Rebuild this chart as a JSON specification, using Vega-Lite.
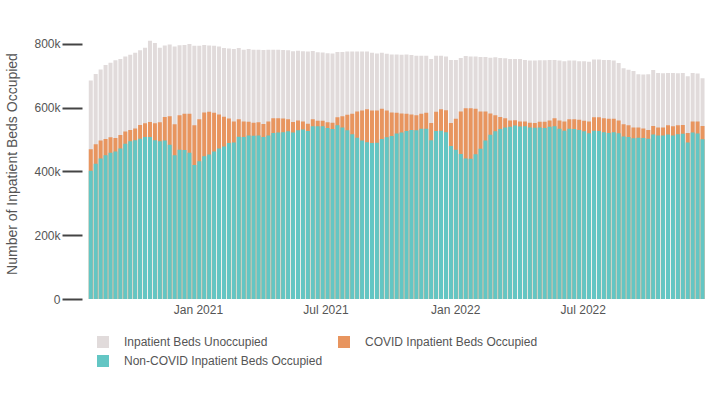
{
  "$schema": "https://vega.github.io/schema/vega-lite/v6.json",
  "width": 626,
  "height": 271,
  "autosize": {"type": "none"},
  "padding": {"left": 84, "top": 28, "right": 10, "bottom": 101},
  "background": "white",
  "config": {"view": {"stroke": null}, "font": "Liberation Sans"},
  "data": {"values": [
    {"week": "2020-08-02", "nonCovid": 402000, "occupied": 470000, "total": 685000},
    {"week": "2020-08-09", "nonCovid": 424000, "occupied": 485000, "total": 706000},
    {"week": "2020-08-16", "nonCovid": 441000, "occupied": 497000, "total": 720000},
    {"week": "2020-08-23", "nonCovid": 451000, "occupied": 502000, "total": 734000},
    {"week": "2020-08-30", "nonCovid": 459000, "occupied": 507000, "total": 741000},
    {"week": "2020-09-06", "nonCovid": 463000, "occupied": 505000, "total": 749000},
    {"week": "2020-09-13", "nonCovid": 472000, "occupied": 514000, "total": 753000},
    {"week": "2020-09-20", "nonCovid": 487000, "occupied": 525000, "total": 761000},
    {"week": "2020-09-27", "nonCovid": 495000, "occupied": 530000, "total": 766000},
    {"week": "2020-10-04", "nonCovid": 498000, "occupied": 535000, "total": 772000},
    {"week": "2020-10-11", "nonCovid": 503000, "occupied": 546000, "total": 780000},
    {"week": "2020-10-18", "nonCovid": 508000, "occupied": 551000, "total": 788000},
    {"week": "2020-10-25", "nonCovid": 508000, "occupied": 555000, "total": 810000},
    {"week": "2020-11-01", "nonCovid": 498000, "occupied": 551000, "total": 803000},
    {"week": "2020-11-08", "nonCovid": 495000, "occupied": 554000, "total": 788000},
    {"week": "2020-11-15", "nonCovid": 497000, "occupied": 571000, "total": 795000},
    {"week": "2020-11-22", "nonCovid": 484000, "occupied": 573000, "total": 798000},
    {"week": "2020-11-29", "nonCovid": 451000, "occupied": 548000, "total": 792000},
    {"week": "2020-12-06", "nonCovid": 468000, "occupied": 576000, "total": 796000},
    {"week": "2020-12-13", "nonCovid": 467000, "occupied": 581000, "total": 797000},
    {"week": "2020-12-20", "nonCovid": 459000, "occupied": 581000, "total": 800000},
    {"week": "2020-12-27", "nonCovid": 420000, "occupied": 545000, "total": 794000},
    {"week": "2021-01-03", "nonCovid": 432000, "occupied": 564000, "total": 794000},
    {"week": "2021-01-10", "nonCovid": 448000, "occupied": 585000, "total": 797000},
    {"week": "2021-01-17", "nonCovid": 453000, "occupied": 587000, "total": 795000},
    {"week": "2021-01-24", "nonCovid": 463000, "occupied": 584000, "total": 794000},
    {"week": "2021-01-31", "nonCovid": 472000, "occupied": 579000, "total": 792000},
    {"week": "2021-02-07", "nonCovid": 478000, "occupied": 572000, "total": 787000},
    {"week": "2021-02-14", "nonCovid": 489000, "occupied": 566000, "total": 786000},
    {"week": "2021-02-21", "nonCovid": 491000, "occupied": 557000, "total": 784000},
    {"week": "2021-02-28", "nonCovid": 509000, "occupied": 564000, "total": 787000},
    {"week": "2021-03-07", "nonCovid": 508000, "occupied": 557000, "total": 782000},
    {"week": "2021-03-14", "nonCovid": 513000, "occupied": 556000, "total": 784000},
    {"week": "2021-03-21", "nonCovid": 512000, "occupied": 553000, "total": 782000},
    {"week": "2021-03-28", "nonCovid": 513000, "occupied": 554000, "total": 782000},
    {"week": "2021-04-04", "nonCovid": 508000, "occupied": 549000, "total": 781000},
    {"week": "2021-04-11", "nonCovid": 513000, "occupied": 557000, "total": 782000},
    {"week": "2021-04-18", "nonCovid": 521000, "occupied": 567000, "total": 782000},
    {"week": "2021-04-25", "nonCovid": 522000, "occupied": 567000, "total": 782000},
    {"week": "2021-05-02", "nonCovid": 523000, "occupied": 566000, "total": 781000},
    {"week": "2021-05-09", "nonCovid": 526000, "occupied": 564000, "total": 780000},
    {"week": "2021-05-16", "nonCovid": 522000, "occupied": 555000, "total": 777000},
    {"week": "2021-05-23", "nonCovid": 529000, "occupied": 560000, "total": 779000},
    {"week": "2021-05-30", "nonCovid": 532000, "occupied": 557000, "total": 777000},
    {"week": "2021-06-06", "nonCovid": 527000, "occupied": 550000, "total": 776000},
    {"week": "2021-06-13", "nonCovid": 542000, "occupied": 564000, "total": 778000},
    {"week": "2021-06-20", "nonCovid": 542000, "occupied": 559000, "total": 774000},
    {"week": "2021-06-27", "nonCovid": 542000, "occupied": 559000, "total": 773000},
    {"week": "2021-07-04", "nonCovid": 536000, "occupied": 554000, "total": 771000},
    {"week": "2021-07-11", "nonCovid": 533000, "occupied": 553000, "total": 770000},
    {"week": "2021-07-18", "nonCovid": 545000, "occupied": 570000, "total": 775000},
    {"week": "2021-07-25", "nonCovid": 538000, "occupied": 573000, "total": 775000},
    {"week": "2021-08-01", "nonCovid": 529000, "occupied": 578000, "total": 776000},
    {"week": "2021-08-08", "nonCovid": 517000, "occupied": 581000, "total": 776000},
    {"week": "2021-08-15", "nonCovid": 506000, "occupied": 588000, "total": 776000},
    {"week": "2021-08-22", "nonCovid": 497000, "occupied": 591000, "total": 776000},
    {"week": "2021-08-29", "nonCovid": 492000, "occupied": 595000, "total": 776000},
    {"week": "2021-09-05", "nonCovid": 489000, "occupied": 591000, "total": 772000},
    {"week": "2021-09-12", "nonCovid": 490000, "occupied": 591000, "total": 770000},
    {"week": "2021-09-19", "nonCovid": 502000, "occupied": 597000, "total": 772000},
    {"week": "2021-09-26", "nonCovid": 507000, "occupied": 591000, "total": 769000},
    {"week": "2021-10-03", "nonCovid": 511000, "occupied": 585000, "total": 767000},
    {"week": "2021-10-10", "nonCovid": 519000, "occupied": 584000, "total": 767000},
    {"week": "2021-10-17", "nonCovid": 522000, "occupied": 582000, "total": 766000},
    {"week": "2021-10-24", "nonCovid": 527000, "occupied": 581000, "total": 767000},
    {"week": "2021-10-31", "nonCovid": 530000, "occupied": 579000, "total": 765000},
    {"week": "2021-11-07", "nonCovid": 529000, "occupied": 576000, "total": 763000},
    {"week": "2021-11-14", "nonCovid": 534000, "occupied": 581000, "total": 763000},
    {"week": "2021-11-21", "nonCovid": 534000, "occupied": 584000, "total": 763000},
    {"week": "2021-11-28", "nonCovid": 498000, "occupied": 552000, "total": 753000},
    {"week": "2021-12-05", "nonCovid": 527000, "occupied": 587000, "total": 763000},
    {"week": "2021-12-12", "nonCovid": 528000, "occupied": 595000, "total": 763000},
    {"week": "2021-12-19", "nonCovid": 523000, "occupied": 592000, "total": 761000},
    {"week": "2021-12-26", "nonCovid": 480000, "occupied": 552000, "total": 750000},
    {"week": "2022-01-02", "nonCovid": 468000, "occupied": 565000, "total": 750000},
    {"week": "2022-01-09", "nonCovid": 455000, "occupied": 588000, "total": 756000},
    {"week": "2022-01-16", "nonCovid": 441000, "occupied": 598000, "total": 762000},
    {"week": "2022-01-23", "nonCovid": 440000, "occupied": 598000, "total": 761000},
    {"week": "2022-01-30", "nonCovid": 454000, "occupied": 597000, "total": 761000},
    {"week": "2022-02-06", "nonCovid": 471000, "occupied": 588000, "total": 759000},
    {"week": "2022-02-13", "nonCovid": 497000, "occupied": 588000, "total": 759000},
    {"week": "2022-02-20", "nonCovid": 515000, "occupied": 582000, "total": 757000},
    {"week": "2022-02-27", "nonCovid": 526000, "occupied": 576000, "total": 758000},
    {"week": "2022-03-06", "nonCovid": 533000, "occupied": 571000, "total": 756000},
    {"week": "2022-03-13", "nonCovid": 538000, "occupied": 567000, "total": 755000},
    {"week": "2022-03-20", "nonCovid": 540000, "occupied": 560000, "total": 753000},
    {"week": "2022-03-27", "nonCovid": 544000, "occupied": 561000, "total": 753000},
    {"week": "2022-04-03", "nonCovid": 541000, "occupied": 557000, "total": 753000},
    {"week": "2022-04-10", "nonCovid": 542000, "occupied": 557000, "total": 750000},
    {"week": "2022-04-17", "nonCovid": 538000, "occupied": 553000, "total": 748000},
    {"week": "2022-04-24", "nonCovid": 537000, "occupied": 552000, "total": 748000},
    {"week": "2022-05-01", "nonCovid": 538000, "occupied": 556000, "total": 749000},
    {"week": "2022-05-08", "nonCovid": 536000, "occupied": 556000, "total": 749000},
    {"week": "2022-05-15", "nonCovid": 540000, "occupied": 560000, "total": 750000},
    {"week": "2022-05-22", "nonCovid": 542000, "occupied": 567000, "total": 750000},
    {"week": "2022-05-29", "nonCovid": 534000, "occupied": 560000, "total": 748000},
    {"week": "2022-06-05", "nonCovid": 528000, "occupied": 557000, "total": 746000},
    {"week": "2022-06-12", "nonCovid": 534000, "occupied": 564000, "total": 748000},
    {"week": "2022-06-19", "nonCovid": 533000, "occupied": 564000, "total": 748000},
    {"week": "2022-06-26", "nonCovid": 530000, "occupied": 562000, "total": 746000},
    {"week": "2022-07-03", "nonCovid": 526000, "occupied": 559000, "total": 746000},
    {"week": "2022-07-10", "nonCovid": 520000, "occupied": 557000, "total": 744000},
    {"week": "2022-07-17", "nonCovid": 528000, "occupied": 570000, "total": 751000},
    {"week": "2022-07-24", "nonCovid": 527000, "occupied": 570000, "total": 751000},
    {"week": "2022-07-31", "nonCovid": 523000, "occupied": 567000, "total": 750000},
    {"week": "2022-08-07", "nonCovid": 521000, "occupied": 565000, "total": 750000},
    {"week": "2022-08-14", "nonCovid": 523000, "occupied": 565000, "total": 748000},
    {"week": "2022-08-21", "nonCovid": 520000, "occupied": 560000, "total": 740000},
    {"week": "2022-08-28", "nonCovid": 510000, "occupied": 548000, "total": 724000},
    {"week": "2022-09-04", "nonCovid": 508000, "occupied": 545000, "total": 719000},
    {"week": "2022-09-11", "nonCovid": 504000, "occupied": 538000, "total": 715000},
    {"week": "2022-09-18", "nonCovid": 506000, "occupied": 538000, "total": 705000},
    {"week": "2022-09-25", "nonCovid": 505000, "occupied": 535000, "total": 704000},
    {"week": "2022-10-02", "nonCovid": 503000, "occupied": 530000, "total": 705000},
    {"week": "2022-10-09", "nonCovid": 516000, "occupied": 543000, "total": 718000},
    {"week": "2022-10-16", "nonCovid": 513000, "occupied": 538000, "total": 709000},
    {"week": "2022-10-23", "nonCovid": 513000, "occupied": 538000, "total": 708000},
    {"week": "2022-10-30", "nonCovid": 516000, "occupied": 545000, "total": 709000},
    {"week": "2022-11-06", "nonCovid": 513000, "occupied": 542000, "total": 709000},
    {"week": "2022-11-13", "nonCovid": 517000, "occupied": 545000, "total": 708000},
    {"week": "2022-11-20", "nonCovid": 518000, "occupied": 546000, "total": 709000},
    {"week": "2022-11-27", "nonCovid": 491000, "occupied": 521000, "total": 699000},
    {"week": "2022-12-04", "nonCovid": 522000, "occupied": 557000, "total": 709000},
    {"week": "2022-12-11", "nonCovid": 519000, "occupied": 557000, "total": 707000},
    {"week": "2022-12-18", "nonCovid": 501000, "occupied": 543000, "total": 692000}
  ]},
  "encoding": {
    "x": {
      "field": "week",
      "type": "temporal",
      "scale": {
        "type": "utc",
        "domain": [
          {"year": 2020, "month": 7, "date": 30, "hours": 12, "utc": true},
          {"year": 2022, "month": 12, "date": 21, "hours": 12, "utc": true}
        ]
      },
      "axis": {
        "title": null,
        "format": "%b %Y",
        "values": [
          {"year": 2021, "month": 1, "date": 1, "utc": true},
          {"year": 2021, "month": 7, "date": 1, "utc": true},
          {"year": 2022, "month": 1, "date": 1, "utc": true},
          {"year": 2022, "month": 7, "date": 1, "utc": true}
        ],
        "ticks": false,
        "domain": false,
        "grid": false,
        "labelColor": "#555555",
        "labelFontSize": 12,
        "labelPadding": 5
      }
    }
  },
  "layer": [
    {
      "mark": {"type": "bar", "width": 4},
      "encoding": {
        "y": {
          "field": "total",
          "type": "quantitative",
          "stack": null,
          "title": "Number of Inpatient Beds Occupied",
          "scale": {"domain": [0, 850000], "nice": false},
          "axis": {
            "title": "Number of Inpatient Beds Occupied",
            "titleFontSize": 14,
            "titleFontWeight": "normal",
            "titleColor": "#555555",
            "titlePadding": 14,
            "values": [0, 200000, 400000, 600000, 800000],
            "labelExpr": "datum.value == 0 ? '0' : format(datum.value / 1000, 'd') + 'k'",
            "tickSize": 20,
            "tickWidth": 2,
            "tickColor": "#444444",
            "domain": false,
            "grid": false,
            "offset": 2,
            "labelFontSize": 12,
            "labelColor": "#555555",
            "labelPadding": 2
          }
        },
        "color": {
          "datum": "Inpatient Beds Unoccupied",
          "scale": {
            "domain": ["Inpatient Beds Unoccupied", "COVID Inpatient Beds Occupied", "Non-COVID Inpatient Beds Occupied"],
            "range": ["#E1DBDB", "#E8955F", "#63C6C4"]
          },
          "legend": {
            "title": null,
            "orient": "none",
            "legendX": 13,
            "legendY": 308,
            "columns": 2,
            "direction": "horizontal",
            "symbolType": "square",
            "symbolSize": 144,
            "symbolStrokeWidth": 0,
            "symbolOpacity": 1,
            "labelFontSize": 12,
            "labelColor": "#555555",
            "labelLimit": 400,
            "labelOffset": 15,
            "columnPadding": 15,
            "rowPadding": 7
          }
        }
      }
    },
    {
      "mark": {"type": "bar", "width": 4},
      "encoding": {
        "y": {"field": "occupied", "type": "quantitative", "stack": null, "title": "Number of Inpatient Beds Occupied"},
        "color": {"datum": "COVID Inpatient Beds Occupied"}
      }
    },
    {
      "mark": {"type": "bar", "width": 4},
      "encoding": {
        "y": {"field": "nonCovid", "type": "quantitative", "stack": null, "title": "Number of Inpatient Beds Occupied"},
        "color": {"datum": "Non-COVID Inpatient Beds Occupied"}
      }
    }
  ]
}
